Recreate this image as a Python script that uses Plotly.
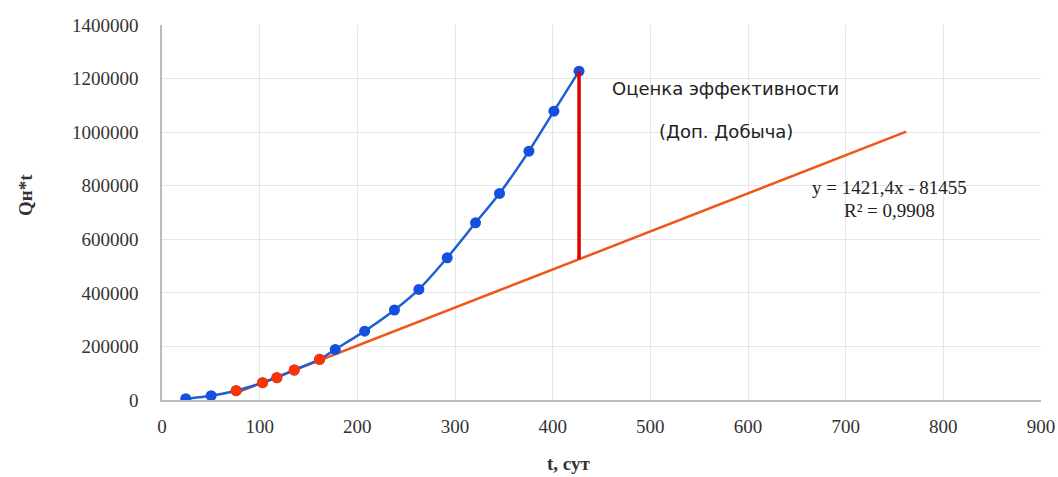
import plotly.graph_objects as go

# Data
t_all = [24.3, 50.3, 75.9, 103.0, 117.6, 135.4, 161.4, 177.4, 207.5, 238.0, 263.0, 292.0, 321.0, 345.6, 375.7, 401.3, 427.0]
q_all = [5000, 16000, 34700, 64600, 83200, 112000, 151800, 189000, 257000, 336000, 413000, 531000, 661600, 771300, 929100, 1078400, 1227600]
t_fit = [75.9, 103.0, 117.6, 135.4, 161.4]
q_fit = [34700, 64600, 83200, 112000, 151800]
slope = 1421.4
intercept = -81455
trend_x = [75.9, 762.0]
gap_t = 427.0

x_ticks = [0, 100, 200, 300, 400, 500, 600, 700, 800, 900]
y_ticks = [0, 200000, 400000, 600000, 800000, 1000000, 1200000, 1400000]

serif = "Liberation Serif"
sans = "DejaVu Sans"

fig = go.Figure()

trend_y = [slope * x + intercept for x in trend_x]
fig.add_trace(go.Scatter(x=trend_x, y=trend_y, mode="lines",
                         line=dict(color="#F0561A", width=2.5), hoverinfo="skip"))

fig.add_trace(go.Scatter(x=t_all, y=q_all, mode="lines+markers",
                         line=dict(color="#1F5FD1", width=2.5, shape="spline", smoothing=0.6),
                         marker=dict(color="#1450E0", size=11)))

fig.add_trace(go.Scatter(x=t_fit, y=q_fit, mode="markers",
                         marker=dict(color="#FF3300", size=11)))

gap_low = slope * gap_t + intercept
gap_high = q_all[-1]
fig.add_trace(go.Scatter(x=[gap_t, gap_t], y=[gap_low, gap_high], mode="lines",
                         line=dict(color="#E00000", width=3.5)))

fig.add_annotation(x=577, y=1164800, xref="x", yref="y", text="Оценка эффективности",
                   showarrow=False, font=dict(family=sans, size=18, color="#222"), xanchor="center")
fig.add_annotation(x=577, y=1004000, xref="x", yref="y", text="(Доп. Добыча)",
                   showarrow=False, font=dict(family=sans, size=18, color="#222"), xanchor="center")
fig.add_annotation(x=745, y=791500, xref="x", yref="y", text="y = 1421,4x - 81455",
                   showarrow=False, font=dict(family=serif, size=19, color="#222"), xanchor="center")
fig.add_annotation(x=745, y=709000, xref="x", yref="y", text="R² = 0,9908",
                   showarrow=False, font=dict(family=serif, size=19, color="#222"), xanchor="center")

# axis titles
fig.add_annotation(x=0.463, y=-0.168, xref="paper", yref="paper", text="<b>t, сут</b>",
                   showarrow=False, font=dict(family=serif, size=19, color="#333"),
                   xanchor="center", yanchor="middle")
fig.add_annotation(x=-0.1547, y=0.5467, xref="paper", yref="paper", text="<b>Qн*t</b>",
                   showarrow=False, textangle=-90, font=dict(family=serif, size=19, color="#333"),
                   xanchor="center", yanchor="middle")

fig.update_layout(
    width=1058, height=477,
    margin=dict(l=162, r=17, t=25, b=77),
    plot_bgcolor="white", paper_bgcolor="white",
    showlegend=False,
    font=dict(family=serif, size=19, color="#333"),
)
fig.update_xaxes(range=[0, 900], tickvals=x_ticks, showgrid=True, gridcolor="#E6E6E6",
                 showline=True, linecolor="#BBBBBB", linewidth=1.5, zeroline=False, automargin=False,
                 mirror=False, ticks="", ticklabelstandoff=8,
                 tickfont=dict(family=serif, size=19, color="#333"))
fig.update_yaxes(range=[0, 1400000], tickvals=y_ticks, ticktext=[str(v) for v in y_ticks],
                 showgrid=True, gridcolor="#E6E6E6",
                 showline=True, linecolor="#BBBBBB", linewidth=1.5, zeroline=False, automargin=False,
                 ticks="", ticklabelstandoff=18, tickfont=dict(family=serif, size=19, color="#333"))

fig.write_html("out.html", config={"displayModeBar": False},
               post_script="document.body.style.margin='0';")
